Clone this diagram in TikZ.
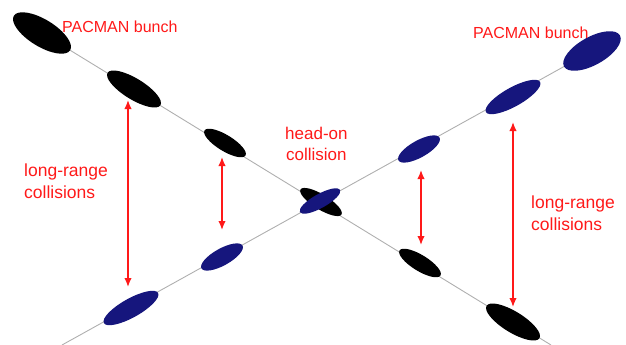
\documentclass[tikz,border=0pt]{standalone}
\usepackage{fontspec}
\setmainfont{Liberation Sans}
\usetikzlibrary{shapes.geometric,arrows.meta,backgrounds}
\definecolor{beamblue}{RGB}{22,22,125}
\definecolor{orbitgrey}{RGB}{175,175,175}
\definecolor{labelred}{RGB}{255,25,25}
\tikzset{
  orbit/.style={draw=orbitgrey, line width=0.9pt},
  bunch/.style={ellipse, inner sep=0pt, draw=none},
  beamone/.style={bunch, fill=black, rotate=-31.5},
  beamtwo/.style={bunch, fill=beamblue, rotate=29.1},
  lrarrow/.style={draw=labelred, line width=1.5pt,
    {Latex[length=9pt,width=7.5pt]}-{Latex[length=9pt,width=7.5pt]}},
  label/.style={text=labelred, inner sep=0pt},
}
\begin{document}
\begin{tikzpicture}[x=1pt,y=-1pt]
\useasboundingbox (0,0) rectangle (626,345);

% path ends at the picture border
\coordinate (oneend) at (551,345);
\coordinate (twoend) at (62,345);

% beam 1 (black), top left to bottom right
\node[beamone, minimum width=66, minimum height=27] (k1) at (42,33) {};
\node[beamone, minimum width=62, minimum height=21] (k2) at (134,89) {};
\node[beamone, minimum width=48, minimum height=16] (k3) at (225,143) {};
\node[beamone, minimum width=48, minimum height=15] (k0) at (321,202) {};
\node[beamone, minimum width=48, minimum height=16] (k4) at (420,263) {};
\node[beamone, minimum width=62, minimum height=21] (k5) at (513,322) {};

% beam 2 (blue), bottom left to top right
\node[beamtwo, minimum width=64, minimum height=28] (b1) at (592,51) {};
\node[beamtwo, minimum width=62, minimum height=19] (b2) at (513,97) {};
\node[beamtwo, minimum width=47, minimum height=17] (b3) at (419,149) {};
\node[beamtwo, minimum width=46, minimum height=14] (b0) at (320,201) {};
\node[beamtwo, minimum width=47, minimum height=17] (b4) at (222,257) {};
\node[beamtwo, minimum width=62, minimum height=19] (b5) at (131,308) {};

% orbits drawn underneath the bunches
\begin{scope}[on background layer]
\path[orbit] (k1.center) -- (oneend);
\path[orbit] (twoend) -- (b1.center);
\end{scope}

% long-range encounter arrows
\coordinate (a1t) at (128,100); \coordinate (a1b) at (128,287);
\coordinate (a2t) at (222,157); \coordinate (a2b) at (222,230);
\coordinate (a3t) at (421,170); \coordinate (a3b) at (421,245);
\coordinate (a4t) at (513,122); \coordinate (a4b) at (513,307);
\draw[lrarrow] (a1t) -- (a1b);
\draw[lrarrow] (a2t) -- (a2b);
\draw[lrarrow] (a3t) -- (a3b);
\draw[lrarrow] (a4t) -- (a4b);

% labels (base anchor of a two-line label sits on its last line)
\node[label, anchor=base west, font=\fontsize{16}{20}\selectfont] (pl) at (62,32.5) {PACMAN bunch};
\node[label, anchor=base west, font=\fontsize{16}{20}\selectfont] (pr) at (473,39) {PACMAN bunch};
\node[label, anchor=base west, align=center, font=\fontsize{17}{20.5}\selectfont] (ho) at (285,160) {head-on\\collision};
\node[label, anchor=base west, align=left, font=\fontsize{17.5}{22}\selectfont] (lrl) at (24,198) {long-range\\collisions};
\node[label, anchor=base west, align=left, font=\fontsize{17.5}{22}\selectfont] (lrr) at (531,230) {long-range\\collisions};
\end{tikzpicture}
\end{document}
